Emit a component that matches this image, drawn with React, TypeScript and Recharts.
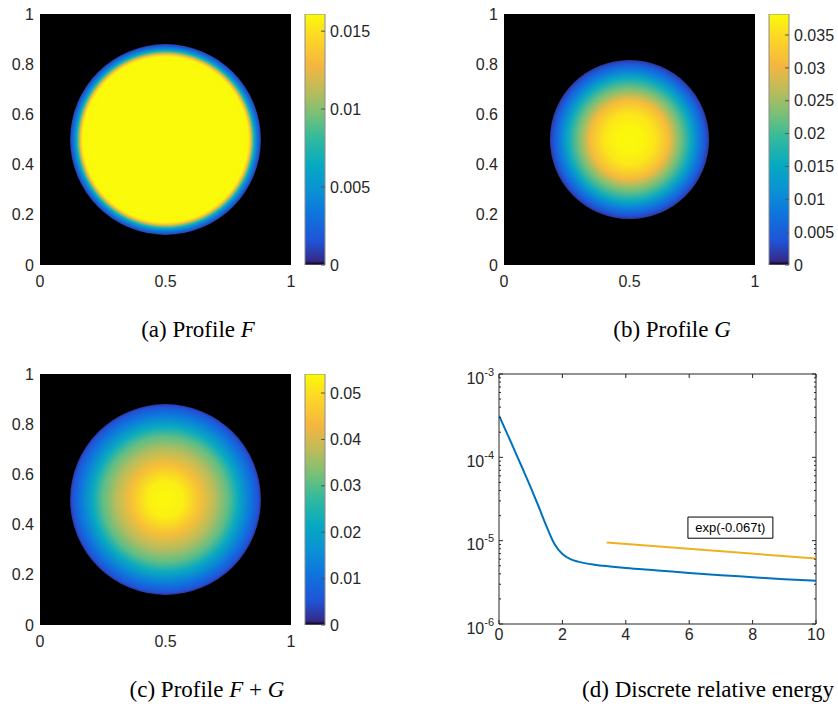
import React from 'react'
import {
  ScatterChart,
  Scatter,
  BarChart,
  Bar,
  LineChart,
  Line,
  XAxis,
  YAxis,
  ReferenceArea,
} from 'recharts'

// ---- data ----
const mapXTicks = [0, 0.5, 1]
const mapYTicks = [0, 0.2, 0.4, 0.6, 0.8, 1]
const mapCenter = [{ x: 0.5, y: 0.5 }]

// radial profiles (distance from centre, value)
const radiusF = [0, 0.3, 0.33, 0.34, 0.348, 0.354, 0.367, 0.38]
const valueF = [0.0161, 0.0161, 0.016, 0.013, 0.009, 0.0065, 0.003, 0.0008]
const cbTicksF = [0, 0.005, 0.01, 0.015]
const cbMaxF = 0.0161

const radiusG = [0, 0.05, 0.1, 0.157, 0.205, 0.245, 0.277, 0.3, 0.317]
const valueG = [0.0381, 0.0378, 0.0362, 0.031, 0.0225, 0.0155, 0.0085, 0.0042, 0.0012]
const cbTicksG = [0, 0.005, 0.01, 0.015, 0.02, 0.025, 0.03, 0.035]
const cbMaxG = 0.0382

const radiusFG = [0, 0.07, 0.14, 0.2, 0.25, 0.29, 0.34, 0.37, 0.38]
const valueFG = [0.054, 0.0525, 0.0445, 0.037, 0.0305, 0.0218, 0.011, 0.005, 0.0015]
const cbTicksFG = [0, 0.01, 0.02, 0.03, 0.04, 0.05]
const cbMaxFG = 0.0541

const timeValues = [0, 0.25, 0.5, 0.75, 1, 1.25, 1.5, 1.75, 2, 2.25, 2.5, 3, 3.5, 4, 5, 6, 7, 8, 9, 10]
const energyValues = [
  3.16e-4, 1.95e-4, 1.19e-4, 7.24e-5, 4.37e-5, 2.57e-5, 1.48e-5, 9.1e-6, 6.9e-6, 6.0e-6,
  5.6e-6, 5.15e-6, 4.9e-6, 4.7e-6, 4.4e-6, 4.1e-6, 3.85e-6, 3.65e-6, 3.45e-6, 3.3e-6,
]
const fitTimes = [3.4, 10]
const fitValues = [9.5e-6, 6.1e-6]
const fitLabel = 'exp(-0.067t)'

const energyXTicks = [0, 2, 4, 6, 8, 10]
const energyDecades = [1e-6, 1e-5, 1e-4, 1e-3]
const minorSteps = [2, 3, 4, 5, 6, 7, 8, 9]

const energyData = timeValues.map((t, i) => ({ t, e: energyValues[i] }))
const fitData = fitTimes.map((t, i) => ({ t, e: fitValues[i] }))
const energyYTicks = energyDecades.flatMap((d, i) =>
  i < energyDecades.length - 1 ? [d, ...minorSteps.map((m) => m * d)] : [d]
)

// ---- styling ----
const AXIS_COLOR = '#262626'
const FONT = '"Liberation Sans", Arial, sans-serif'
const SERIF = '"Liberation Serif", "DejaVu Serif", serif'

// parula, sampled (a little brighter, like the scan)
const parulaPos = [0, 0.095, 0.206, 0.3, 0.397, 0.508, 0.603, 0.698, 0.794, 0.905, 1]
const parulaRgb = [
  [53, 42, 135], [32, 83, 215], [14, 118, 222], [10, 146, 212], [6, 169, 194],
  [52, 186, 156], [122, 192, 118], [190, 188, 90], [244, 182, 64], [253, 214, 38], [250, 250, 10],
]

function parula(t: number) {
  const v = Math.max(0, Math.min(1, t))
  let i = 0
  while (i < parulaPos.length - 2 && v > parulaPos[i + 1]) i++
  const f = (v - parulaPos[i]) / (parulaPos[i + 1] - parulaPos[i])
  const a = parulaRgb[i]
  const b = parulaRgb[i + 1]
  const c = a.map((x, k) => Math.round(x + (b[k] - x) * f))
  return `rgb(${c[0]},${c[1]},${c[2]})`
}

// colormap with first of 64 entries set to black
const colorOf = (t: number) => (t < 1 / 64 ? '#000' : parula(t))

const MAP_W = 300
const MAP_H = 300
const MAP_MARGIN = { top: 14, right: 9, bottom: 5, left: 0 }
const MAP_YAXIS_W = 40
const MAP_PLOT = MAP_W - MAP_MARGIN.left - MAP_YAXIS_W - MAP_MARGIN.right

const tickText = { fontSize: 16, fill: AXIS_COLOR, fontFamily: FONT }

function ProfileMap({ id, radii, values, vmax }: { id: string; radii: number[]; values: number[]; vmax: number }) {
  const R = radii[radii.length - 1]
  const disc = (p: any) => (
    <g>
      <defs>
        <radialGradient id={id} cx="50%" cy="50%" r="50%">
          {radii.map((r, i) => (
            <stop key={i} offset={r / R} stopColor={colorOf(values[i] / vmax)} />
          ))}
        </radialGradient>
      </defs>
      <circle cx={p.cx} cy={p.cy} r={R * MAP_PLOT} fill={`url(#${id})`} />
    </g>
  )
  return (
    <ScatterChart width={MAP_W} height={MAP_H} margin={MAP_MARGIN}>
      <XAxis
        type="number"
        dataKey="x"
        domain={[0, 1]}
        ticks={mapXTicks}
        allowDataOverflow
        height={30}
        tickSize={0}
        tickMargin={11}
        tickLine={false}
        axisLine={false}
        tick={tickText}
      />
      <YAxis
        type="number"
        dataKey="y"
        domain={[0, 1]}
        ticks={mapYTicks}
        allowDataOverflow
        width={MAP_YAXIS_W}
        tickSize={0}
        tickMargin={6}
        tickLine={false}
        axisLine={false}
        tick={tickText}
      />
      <ReferenceArea x1={0} x2={1} y1={0} y2={1} fill="#000" fillOpacity={1} stroke="none" ifOverflow="visible" />
      <Scatter data={mapCenter} shape={disc} isAnimationActive={false} />
    </ScatterChart>
  )
}

const CbTick = (p: any) => (
  <g>
    <line x1={p.x - 4} x2={p.x} y1={p.y} y2={p.y} stroke="#555" />
    <text x={p.x + 5} y={p.y} dy="0.355em" {...tickText}>
      {p.payload.value}
    </text>
  </g>
)

function ColorBar({ id, vmax, ticks }: { id: string; vmax: number; ticks: number[] }) {
  const offsets = [0, 1 / 64, ...parulaPos.filter((o) => o > 1 / 64)]
  const bar = (p: any) => (
    <g>
      <defs>
        <linearGradient id={id} x1="0" y1="1" x2="0" y2="0">
          {offsets.map((o, i) => (
            <stop key={i} offset={o} stopColor={i === 0 ? '#000' : i === 1 ? parula(0) : parula(o)} />
          ))}
          <stop offset={1 / 64} stopColor="#000" />
        </linearGradient>
      </defs>
      <rect x={p.x} y={p.y} width={p.width} height={p.height} fill={`url(#${id})`} stroke="#8c8c8c" strokeWidth={1} />
    </g>
  )
  return (
    <BarChart
      width={80}
      height={MAP_H}
      data={[{ k: 'cb', v: vmax }]}
      margin={{ top: MAP_MARGIN.top, right: 0, bottom: 35, left: 10 }}
      barCategoryGap={0}
    >
      <XAxis dataKey="k" type="category" hide />
      <YAxis
        orientation="right"
        domain={[0, vmax]}
        ticks={ticks}
        allowDataOverflow
        width={50}
        tickSize={0}
        tickMargin={0}
        tickLine={false}
        axisLine={false}
        tick={<CbTick />}
      />
      <Bar dataKey="v" shape={bar} isAnimationActive={false} />
    </BarChart>
  )
}

const EN_W = 390
const EN_H = 300
const EN_MARGIN = { top: 14, right: 14, bottom: 6, left: 0 }
const EN_YAXIS_W = 59
const EN_XAXIS_H = 30
const EN_PLOT_W = EN_W - EN_MARGIN.left - EN_MARGIN.right - EN_YAXIS_W
const EN_PLOT_H = EN_H - EN_MARGIN.top - EN_MARGIN.bottom - EN_XAXIS_H

const EnXTick = (p: any) => (
  <g>
    <line x1={p.x} x2={p.x} y1={p.y} y2={p.y - 4} stroke={AXIS_COLOR} />
    <line x1={p.x} x2={p.x} y1={p.y - EN_PLOT_H} y2={p.y - EN_PLOT_H + 4} stroke={AXIS_COLOR} />
    <text x={p.x} y={p.y + 15.5} textAnchor="middle" {...tickText}>
      {p.payload.value}
    </text>
  </g>
)

const EnYTick = (p: any) => {
  const lg = Math.log10(p.payload.value)
  const major = Math.abs(lg - Math.round(lg)) < 1e-6
  const len = major ? 4 : 2
  return (
    <g>
      <line x1={p.x} x2={p.x + len} y1={p.y} y2={p.y} stroke={AXIS_COLOR} />
      <line x1={p.x + EN_PLOT_W} x2={p.x + EN_PLOT_W - len} y1={p.y} y2={p.y} stroke={AXIS_COLOR} />
      {major && (
        <text x={p.x - 5} y={p.y + 9.5} textAnchor="end" {...tickText}>
          10
          <tspan dy={-8} fontSize={11}>
            {Math.round(lg)}
          </tspan>
        </text>
      )}
    </g>
  )
}

function EnergyChart() {
  return (
    <LineChart width={EN_W} height={EN_H} margin={EN_MARGIN}>
      <XAxis
        type="number"
        dataKey="t"
        domain={[0, 10]}
        ticks={energyXTicks}
        allowDataOverflow
        height={EN_XAXIS_H}
        tickSize={0}
        tickMargin={0}
        tickLine={false}
        axisLine={false}
        tick={<EnXTick />}
      />
      <YAxis
        scale="log"
        domain={[1e-6, 1e-3]}
        ticks={energyYTicks}
        interval={0}
        allowDataOverflow
        width={EN_YAXIS_W}
        tickSize={0}
        tickMargin={0}
        tickLine={false}
        axisLine={false}
        tick={<EnYTick />}
      />
      <ReferenceArea x1={0} x2={10} y1={1e-6} y2={1e-3} fill="none" stroke={AXIS_COLOR} strokeWidth={1} ifOverflow="visible" />
      <Line data={energyData} dataKey="e" type="monotone" stroke="#0072BD" strokeWidth={2} dot={false} isAnimationActive={false} />
      <Line data={fitData} dataKey="e" type="linear" stroke="#EDB120" strokeWidth={2} dot={false} isAnimationActive={false} />
      <ReferenceArea
        x1={5.96}
        x2={8.64}
        y1={1.07e-5}
        y2={1.92e-5}
        fill="#fff"
        fillOpacity={1}
        stroke="#000"
        strokeWidth={1}
        label={{ value: fitLabel, position: 'center', fontSize: 13, fill: '#000', fontFamily: FONT }}
      />
    </LineChart>
  )
}

const abs = (left: number, top: number): React.CSSProperties => ({ position: 'absolute', left, top })

const captionStyle = (left: number, top: number, width: number): React.CSSProperties => ({
  position: 'absolute',
  left,
  top,
  width,
  textAlign: 'center',
  fontFamily: SERIF,
  fontSize: 23,
  lineHeight: '26px',
  color: '#000',
  whiteSpace: 'nowrap',
})

export default function App() {
  return (
    <div style={{ position: 'absolute', left: 0, top: 0, width: 838, height: 711, background: '#fff', overflow: 'hidden' }}>
      <div style={abs(0, 0)}>
        <ProfileMap id="mapF" radii={radiusF} values={valueF} vmax={cbMaxF} />
      </div>
      <div style={abs(295, 0)}>
        <ColorBar id="cbF" vmax={cbMaxF} ticks={cbTicksF} />
      </div>
      <div style={abs(464, 0)}>
        <ProfileMap id="mapG" radii={radiusG} values={valueG} vmax={cbMaxG} />
      </div>
      <div style={abs(759, 0)}>
        <ColorBar id="cbG" vmax={cbMaxG} ticks={cbTicksG} />
      </div>
      <div style={abs(0, 360)}>
        <ProfileMap id="mapFG" radii={radiusFG} values={valueFG} vmax={cbMaxFG} />
      </div>
      <div style={abs(295, 360)}>
        <ColorBar id="cbFG" vmax={cbMaxFG} ticks={cbTicksFG} />
      </div>
      <div style={abs(440, 360)}>
        <EnergyChart />
      </div>

      <div style={captionStyle(98, 317, 200)}>
        (a) Profile <i>F</i>
      </div>
      <div style={captionStyle(572, 317, 200)}>
        (b) Profile <i>G</i>
      </div>
      <div style={captionStyle(87, 677, 240)}>
        (c) Profile <i>F</i> + <i>G</i>
      </div>
      <div style={captionStyle(578, 677, 260)}>
        (d) Discrete relative energy
      </div>
    </div>
  )
}
